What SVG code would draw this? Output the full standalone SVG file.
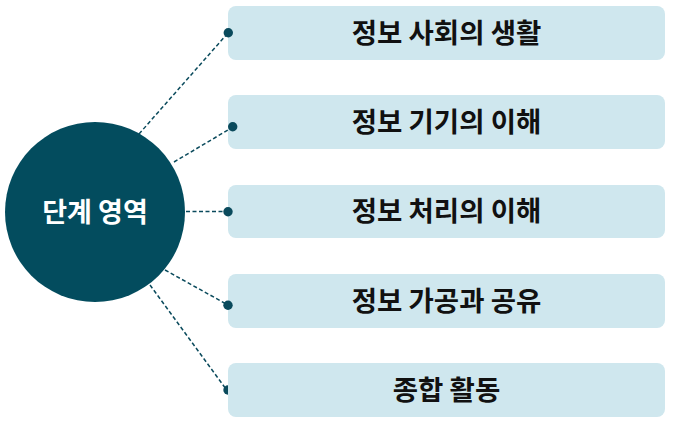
<svg xmlns="http://www.w3.org/2000/svg" width="675" height="423" viewBox="0 0 675 423">
<style>
.box{fill:#cfe7ee}
.lbl{font-family:"Noto Sans CJK KR","Noto Sans",sans-serif;font-weight:bold;font-size:27.5px;fill:#111;text-anchor:middle;dominant-baseline:central}
.hub{font-family:"Noto Sans CJK KR","Noto Sans",sans-serif;font-weight:bold;font-size:27px;fill:#fff;text-anchor:middle;dominant-baseline:central}
.con{stroke:#0a4a5c;stroke-width:1.5;stroke-dasharray:4 2.5;fill:none}
.dot{fill:#0a4a5c}
</style>
<rect width="675" height="423" fill="#fff"/>
<g id="hub">
<circle cx="95" cy="212" r="90" fill="#034c5e"/>
<text class="hub" x="95" y="210">단계 영역</text>
</g>
<g id="n1"><rect class="box" x="228" y="6" width="437" height="54" rx="8"/><text class="lbl" x="446.5" y="31">정보 사회의 생활</text></g>
<g id="n2"><rect class="box" x="228" y="95" width="437" height="54" rx="8"/><text class="lbl" x="446.5" y="120">정보 기기의 이해</text></g>
<g id="n3"><rect class="box" x="228" y="185" width="437" height="53" rx="8"/><text class="lbl" x="446.5" y="209">정보 처리의 이해</text></g>
<g id="n4"><rect class="box" x="228" y="274" width="437" height="54" rx="8"/><text class="lbl" x="446.5" y="299">정보 가공과 공유</text></g>
<g id="n5"><rect class="box" x="228" y="363" width="437" height="54" rx="8"/><text class="lbl" x="446.5" y="388">종합 활동</text></g>
<g id="connectors">
<line class="con" x1="139" y1="134" x2="228" y2="33"/>
<line class="con" x1="174" y1="162" x2="233" y2="127"/>
<line class="con" x1="186" y1="211.5" x2="228" y2="211.5"/>
<line class="con" x1="165" y1="270" x2="228" y2="305"/>
<line class="con" x1="150" y1="285" x2="226" y2="389"/>
<circle class="dot" cx="228.3" cy="32.7" r="4.7"/>
<circle class="dot" cx="232.7" cy="126.7" r="4.7"/>
<circle class="dot" cx="228" cy="211.7" r="4.7"/>
<circle class="dot" cx="228" cy="305.3" r="4.7"/>
<path class="dot" d="M228 385.3 A4.7 4.7 0 0 0 228 394.7 Z"/>
</g>
</svg>
